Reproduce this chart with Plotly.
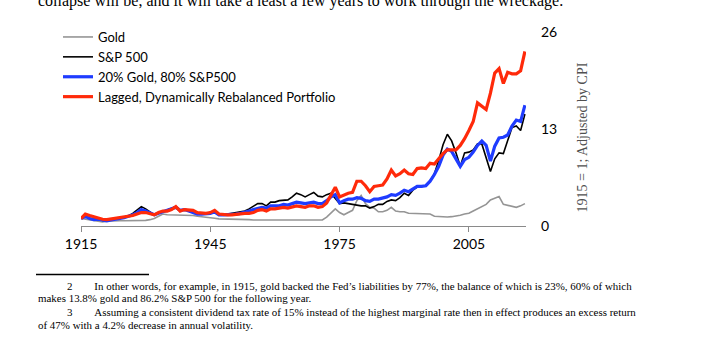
import plotly.graph_objects as go

years = list(range(1915, 2019))

gold = [1.0, 0.9, 0.75, 0.65, 0.6, 0.55, 0.65, 0.7, 0.7, 0.7,
        0.7, 0.7, 0.7, 0.7, 0.7, 0.75, 0.85, 1.0, 1.3, 1.6,
        1.5, 1.5, 1.45, 1.5, 1.5, 1.45, 1.4, 1.3, 1.25, 1.2,
        1.15, 1.05, 0.95, 0.95, 0.9, 0.9, 0.85, 0.85, 0.85, 0.85,
        0.8, 0.8, 0.8, 0.75, 0.75, 0.75, 0.75, 0.75, 0.7, 0.7,
        0.7, 0.7, 0.7, 0.75, 0.75, 0.7, 0.8, 1.2, 1.8, 2.3,
        1.8, 1.5, 1.8, 2.1, 3.4, 4.1, 3.0, 2.5, 2.4, 1.9,
        1.9, 2.1, 2.5, 2.0, 1.9, 1.9, 1.7, 1.7, 1.7, 1.7,
        1.7, 1.6, 1.3, 1.25, 1.2, 1.2, 1.25, 1.3, 1.45, 1.6,
        1.7, 2.0, 2.3, 2.6, 2.9, 3.5, 3.7, 3.95, 2.9, 2.8,
        2.6, 2.5, 2.7, 3.0]

sp500 = [1.0, 1.3, 1.05, 0.9, 0.95, 0.75, 0.7, 0.8, 0.85, 1.0,
         1.2, 1.35, 1.7, 2.1, 2.6, 2.3, 1.9, 1.5, 1.7, 1.9,
         2.1, 2.4, 2.6, 2.1, 2.2, 2.0, 1.8, 1.6, 1.6, 1.6,
         1.7, 1.9, 1.5, 1.5, 1.6, 1.6, 1.7, 1.9, 2.0, 2.3,
         2.6, 3.0, 3.0, 2.7, 3.2, 3.2, 3.4, 3.5, 3.5, 3.9,
         4.4, 4.2, 3.9, 4.2, 4.5, 4.0, 3.9, 4.2, 4.4, 3.7,
         3.0, 3.1, 3.0, 2.9, 2.8, 2.7, 2.7, 2.4, 2.6, 2.9,
         2.9, 3.3, 3.5, 3.4, 3.8, 4.4, 4.1, 4.8, 5.2, 5.3,
         5.4, 6.0, 7.0, 8.8, 10.9, 12.3, 11.4, 9.8, 8.0, 9.8,
         9.9, 10.2, 11.0, 11.0, 9.0, 7.3, 9.0, 9.8, 9.7, 11.5,
         13.2, 13.4, 12.8, 15.0]

mix = [1.0, 1.3, 1.0, 0.85, 0.9, 0.75, 0.7, 0.8, 0.85, 1.0,
       1.1, 1.25, 1.5, 1.8, 2.2, 2.0, 1.7, 1.5, 1.7, 1.9,
       2.1, 2.3, 2.5, 2.1, 2.2, 2.0, 1.8, 1.6, 1.6, 1.6,
       1.7, 1.9, 1.5, 1.5, 1.5, 1.6, 1.6, 1.7, 1.8, 2.0,
       2.2, 2.4, 2.5, 2.4, 2.7, 2.7, 2.7, 2.9, 2.8, 3.0,
       3.2, 3.1, 3.0, 3.1, 3.2, 3.0, 3.0, 3.4, 3.9, 4.2,
       3.1, 3.4, 3.6, 3.6, 3.8, 3.7, 3.4, 3.3, 3.6, 3.6,
       3.7, 3.9, 4.2, 4.1, 4.4, 4.8, 4.6, 5.0, 5.3, 5.3,
       5.4, 6.0, 6.9, 8.0, 9.5, 10.3, 10.0, 9.0, 8.0, 8.9,
       9.2, 9.9, 10.8, 11.4, 10.8, 8.7, 10.7, 11.8, 11.9, 12.2,
       13.4, 14.2, 14.0, 16.2]

lagged = [1.0, 1.6, 1.4, 1.2, 1.1, 0.9, 0.85, 0.95, 1.0, 1.1,
          1.2, 1.25, 1.4, 1.6, 1.8, 1.8, 1.6, 1.5, 1.8, 2.0,
          2.0, 2.2, 2.6, 2.0, 2.2, 2.2, 2.1, 1.8, 1.7, 1.7,
          1.8, 2.1, 1.6, 1.5, 1.5, 1.5, 1.6, 1.7, 1.7, 1.7,
          1.8, 2.1, 2.2, 2.0, 2.3, 2.3, 2.4, 2.5, 2.4, 2.6,
          2.7, 2.6, 2.5, 2.7, 2.7, 2.5, 2.6, 3.1, 4.2, 5.2,
          3.9, 4.2, 4.4, 4.5, 6.0, 6.0, 5.4, 4.6, 5.3, 5.4,
          5.5, 6.3, 7.5, 6.7, 7.0, 7.5, 7.0, 6.9, 7.7, 7.8,
          7.7, 8.4, 8.3, 9.0, 9.7, 10.2, 10.2, 10.2, 10.8, 11.7,
          12.8, 14.0, 16.5, 16.0, 15.6, 17.8, 20.5, 21.1, 19.1, 20.6,
          20.4, 20.4, 20.8, 23.4]

series_names = ["Gold", "S&P 500", "20% Gold, 80% S&P500",
                "Lagged, Dynamically Rebalanced Portfolio"]
series_values = [gold, sp500, mix, lagged]
series_colors = ["#959595", "#000000", "#1f3cff", "#ff2a0a"]
series_widths = [1.6, 1.6, 3.2, 3.2]

x_ticks = [1915, 1945, 1975, 2005]
y_ticks = [0, 13, 26]

top_text = "collapse will be, and it will take a least a few years to work through the wreckage."
y_title = "1915 = 1; Adjusted by CPI"
footnotes = [
    "2&nbsp;&nbsp;&nbsp;&nbsp;&nbsp;&nbsp;&nbsp;&nbsp;In other words, for example, in 1915, gold backed the Fed\u2019s liabilities by 77%, the balance of which is 23%, 60% of which",
    "makes 13.8% gold and 86.2% S&P 500 for the following year.",
    "3&nbsp;&nbsp;&nbsp;&nbsp;&nbsp;&nbsp;&nbsp;&nbsp;Assuming a consistent dividend tax rate of 15% instead of the highest marginal rate then in effect produces an excess return",
    "of 47% with a 4.2% decrease in annual volatility.",
]

W, H = 703, 349
L, R, T, B = 81, 526, 32, 226

def px(x):
    return (x - L) / (R - L)

def py(y):
    return (B - y) / (B - T)

fig = go.Figure()
for name, vals, col, w in zip(series_names, series_values, series_colors, series_widths):
    fig.add_trace(go.Scatter(x=years, y=vals, mode="lines", name=name,
                             line=dict(color=col, width=w)))

sans = "Lato, 'Open Sans', sans-serif"
serif = "'Liberation Serif', 'Times New Roman', serif"

fig.update_layout(
    width=W, height=H,
    margin=dict(l=L, r=W - R, t=T, b=H - B),
    plot_bgcolor="white", paper_bgcolor="white",
    showlegend=True,
    legend=dict(x=px(58), y=py(22), xanchor="left", yanchor="top",
                font=dict(family=sans, size=13, color="#000"),
                bgcolor="rgba(0,0,0,0)", itemwidth=30, tracegroupgap=0),
    xaxis=dict(range=[1915, 2018.25], tickvals=x_ticks,
               ticktext=[str(t) for t in x_ticks],
               showgrid=False, zeroline=False, showline=True,
               linecolor="#8a8a8a", linewidth=1,
               ticks="outside", ticklen=5, tickcolor="#8a8a8a",
               tickfont=dict(family=sans, size=14, color="#000")),
    yaxis=dict(range=[0, 26], tickvals=y_ticks, side="right",
               showgrid=False, zeroline=False, showline=False,
               ticks="", ticklabelstandoff=14,
               tickfont=dict(family=sans, size=14, color="#000")),
)

ann = []
ann.append(dict(text=y_title, x=px(591), y=py(138), xref="paper", yref="paper",
                textangle=-90, showarrow=False,
                font=dict(family=serif, size=14, color="#505050")))
ann.append(dict(text=top_text, x=px(36), y=py(12), xref="paper", yref="paper",
                xanchor="left", yanchor="bottom", showarrow=False,
                font=dict(family=serif, size=16, color="#000")))
fn_y = [285.5, 298, 311.5, 324.5]
fn_x = [65, 36, 65, 36]
for t, xx, yy in zip(footnotes, fn_x, fn_y):
    ann.append(dict(text=t, x=px(xx), y=py(yy), xref="paper", yref="paper",
                    xanchor="left", yanchor="middle", showarrow=False,
                    font=dict(family=serif, size=10.95, color="#000")))
fig.update_layout(annotations=ann)

fig.add_shape(type="line", xref="paper", yref="paper",
              x0=px(36), x1=px(149), y0=py(274.5), y1=py(274.5),
              line=dict(color="#000", width=1.5))

fig.write_html("out.html")
